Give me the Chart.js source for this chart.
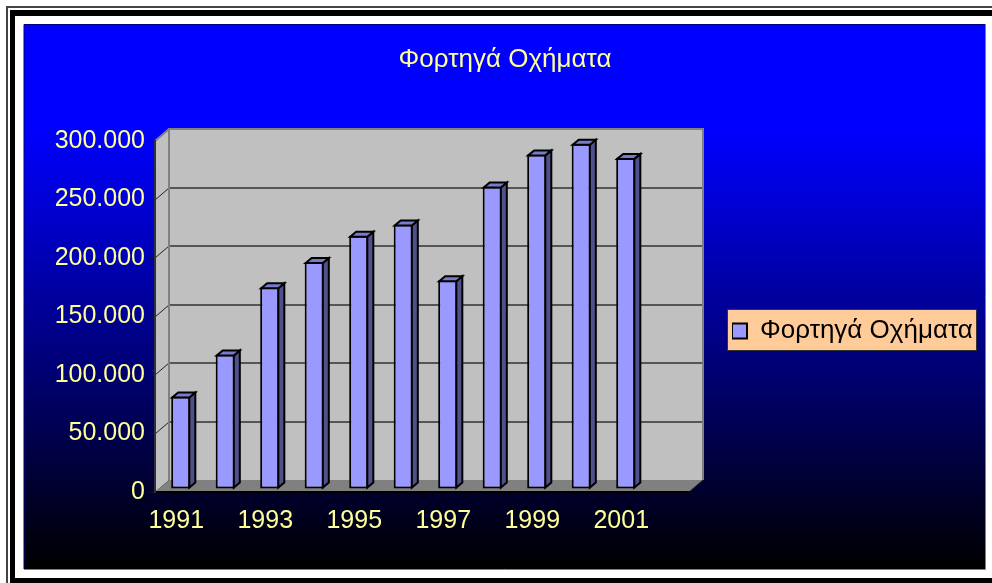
<!DOCTYPE html>
<html>
<head>
<meta charset="utf-8">
<style>html,body{margin:0;padding:0;background:#fff;overflow:hidden}canvas{display:block}</style>
<script src="https://cdn.jsdelivr.net/npm/chart.js@4/dist/chart.umd.min.js"></script>
</head>
<body>
<canvas id="c" width="992" height="583"></canvas>
<script>
const categories = ['1991','1992','1993','1994','1995','1996','1997','1998','1999','2000','2001',''];
const values = [79000,115000,172500,194000,216500,226000,178500,258500,286000,295000,283000];
const seriesName = 'Φορτηγά Οχήματα';
const titleText = 'Φορτηγά Οχήματα';
const FONT = '"Liberation Sans", Arial, sans-serif';
const DEPTH_X = 14, DEPTH_Y = 12, BAR_SHIFT_X = 3.5, BAR_SHIFT_Y = 3, BAR_DX = 6, BAR_DY = 5;

const scene = {
  id: 'scene',
  beforeLayout(chart) {
    const l = chart.legend;
    if (l && !l._wrapped) {
      const f = l.fit;
      l.fit = function () { f.call(this); this.width = 297; };
      l._wrapped = true;
    }
  },
  afterLayout(chart) {
    const l = chart.legend;
    l.left = 732; l.right = 977; l.width = 245;
    l.top = 310; l.bottom = 352; l.height = 42;
  },
  beforeDraw(chart) {
    const c = chart.ctx, x = chart.scales.x, y = chart.scales.y;
    c.save();
    // page frame
    c.fillStyle = '#fff'; c.fillRect(0, 0, 992, 583);
    c.fillStyle = '#444'; c.fillRect(6, 6, 986, 2); c.fillRect(6, 6, 2, 577);
    c.fillStyle = '#000'; c.fillRect(10, 10, 982, 6); c.fillRect(10, 10, 5, 573); c.fillRect(10, 578, 982, 5);
    // backdrop
    const g = c.createLinearGradient(0, 24, 0, 569);
    g.addColorStop(0, '#0000ff'); g.addColorStop(0.195, '#0000ff'); g.addColorStop(1, '#000000');
    c.fillStyle = g; c.fillRect(24, 24, 961, 545);
    c.strokeStyle = '#808080'; c.lineWidth = 1;
    c.beginPath(); c.moveTo(985.5, 24); c.lineTo(985.5, 569.5); c.lineTo(24, 569.5); c.stroke();
    c.strokeStyle = '#000080';
    c.beginPath(); c.moveTo(24, 569); c.lineTo(24, 24.5); c.lineTo(985, 24.5); c.stroke();
    // 3D box, from the scales
    const L = x.left, R = x.right, T = y.top, B = y.bottom;
    c.fillStyle = '#c0c0c0';
    c.fillRect(L + DEPTH_X, T - DEPTH_Y, R - L, B - T);
    c.beginPath(); c.moveTo(L, T); c.lineTo(L + DEPTH_X, T - DEPTH_Y); c.lineTo(L + DEPTH_X, B - DEPTH_Y); c.lineTo(L, B); c.closePath(); c.fill();
    c.fillStyle = '#808080';
    c.beginPath(); c.moveTo(L, B); c.lineTo(L + DEPTH_X, B - DEPTH_Y); c.lineTo(R + DEPTH_X, B - DEPTH_Y); c.lineTo(R, B); c.closePath(); c.fill();
    // gridlines
    y.ticks.forEach(t => {
      if (t.value === 0 || t.value === y.max) return;
      const p = Math.round(y.getPixelForValue(t.value));
      c.strokeStyle = '#555'; c.lineWidth = 2;
      c.beginPath(); c.moveTo(L + DEPTH_X, p - DEPTH_Y); c.lineTo(R + DEPTH_X, p - DEPTH_Y); c.stroke();
      c.strokeStyle = '#222'; c.lineWidth = 1;
      c.beginPath(); c.moveTo(L, p); c.lineTo(L + DEPTH_X, p - DEPTH_Y); c.stroke();
    });
    c.strokeStyle = '#808080'; c.lineWidth = 2;
    c.beginPath();
    c.moveTo(L, T); c.lineTo(L + DEPTH_X, T - DEPTH_Y); c.lineTo(R + DEPTH_X, T - DEPTH_Y); c.lineTo(R + DEPTH_X, B - DEPTH_Y);
    c.moveTo(L + DEPTH_X, T - DEPTH_Y); c.lineTo(L + DEPTH_X, B - DEPTH_Y);
    c.stroke();
    c.strokeStyle = '#222'; c.lineWidth = 1;
    c.beginPath(); c.moveTo(R, B); c.lineTo(R + DEPTH_X, B - DEPTH_Y); c.stroke();
    // legend panel
    c.fillStyle = '#ffcc99'; c.fillRect(727.5, 309.5, 249, 41);
    c.strokeStyle = '#333'; c.lineWidth = 1; c.strokeRect(727.5, 309.5, 249, 41);
    c.restore();
  },
  beforeDatasetDraw(chart) {
    chart.ctx.save();
    chart.ctx.translate(BAR_SHIFT_X, -BAR_SHIFT_Y);
  },
  afterDatasetDraw(chart, args) {
    const c = chart.ctx;
    c.lineWidth = 2; c.strokeStyle = '#000'; c.lineJoin = 'miter';
    args.meta.data.forEach(b => {
      if (b.skip || !isFinite(b.y)) return;
      const l = b.x - b.width / 2 + 1, r = b.x + b.width / 2 - 1, t = b.y + 1, e = b.base - 1;
      c.fillStyle = '#50508c';
      c.beginPath(); c.moveTo(r, t); c.lineTo(r + BAR_DX, t - BAR_DY); c.lineTo(r + BAR_DX, e - BAR_DY); c.lineTo(r, e); c.closePath(); c.fill(); c.stroke();
      c.fillStyle = '#7a7acc';
      c.beginPath(); c.moveTo(l, t); c.lineTo(l + BAR_DX, t - BAR_DY); c.lineTo(r + BAR_DX, t - BAR_DY); c.lineTo(r, t); c.closePath(); c.fill(); c.stroke();
    });
    c.restore();
  }
};

new Chart(document.getElementById('c'), {
  type: 'bar',
  data: {
    labels: categories,
    datasets: [{
      label: seriesName,
      data: values,
      backgroundColor: '#9999ff',
      borderColor: '#000',
      borderWidth: 2,
      borderSkipped: false,
      barPercentage: 0.43,
      categoryPercentage: 1,
      clip: false
    }]
  },
  plugins: [scene],
  options: {
    responsive: false,
    animation: false,
    devicePixelRatio: 1,
    layout: { padding: { left: 24, right: 6, top: 24, bottom: 14 } },
    plugins: {
      tooltip: { enabled: false },
      title: {
        display: true,
        text: titleText,
        color: '#ffff99',
        font: { family: FONT, size: 26, weight: 'normal', lineHeight: 1.2 },
        padding: { top: 20.5, bottom: 65.3 }
      },
      legend: {
        display: true,
        position: 'right',
        labels: {
          color: '#000',
          font: { family: FONT, size: 26 },
          boxWidth: 15,
          boxHeight: 15,
          padding: 0
        }
      }
    },
    scales: {
      x: {
        afterFit(s) { s.height = 77; },
        grid: { drawOnChartArea: false, color: '#000', tickLength: 6, tickColor: '#000' },
        border: { color: '#000', width: 2 },
        ticks: {
          autoSkip: false, maxRotation: 0, minRotation: 0,
          color: '#ffff99', padding: 8, labelOffset: -1,
          font: { family: FONT, size: 25 },
          callback(v, i) { return i % 2 === 0 ? this.getLabelForValue(v) : ''; }
        }
      },
      y: {
        min: 0, max: 300000,
        afterFit(s) { s.width = 131; },
        grid: { drawOnChartArea: false, color: '#000', tickLength: 6, tickColor: '#101030' },
        border: { color: '#303040', width: 2 },
        ticks: {
          stepSize: 50000,
          color: '#ffff99', padding: 4,
          font: { family: FONT, size: 25 },
          callback(v) { return String(v).replace(/\B(?=(\d{3})+$)/g, '.'); }
        }
      }
    }
  }
});
</script>
</body>
</html>
